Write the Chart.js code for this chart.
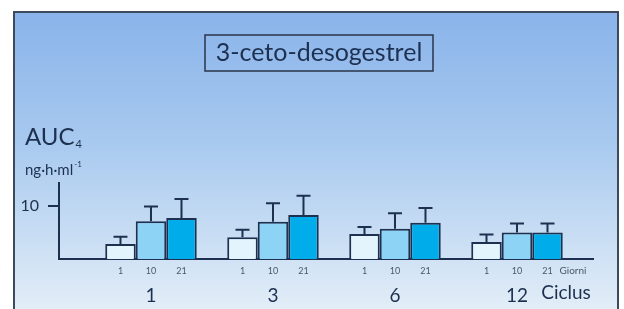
<!DOCTYPE html>
<html>
<head>
<meta charset="utf-8">
<script src="https://cdn.jsdelivr.net/npm/chart.js@4"></script>
<style>
  body { margin: 0; background: #fff; }
  #wrap { width: 624px; height: 309px; position: relative; }
</style>
</head>
<body>
<div id="wrap"><canvas id="myChart"></canvas></div>
<script>
// Datos del gráfico
var cycles = ['1', '3', '6', '12'];
var days = ['1', '10', '21'];
var day1 = [2.8, 4.1, 4.7, 3.2];
var day10 = [7.1, 7.0, 5.7, 5.0];
var day21 = [7.7, 8.3, 6.8, 5.0];
var err1 = [1.4, 1.4, 1.3, 1.4];
var err10 = [2.8, 3.5, 2.9, 1.7];
var err21 = [3.6, 3.6, 2.8, 1.7];
var yTicks = [10];

var navy = '#1d3050';
var font = 'Lato, "Open Sans", sans-serif';

function pts(arr) {
  return arr.map(function (v, i) { return { x: i + 1, y: v }; });
}

// fondo degradado y marco
var background = {
  id: 'background',
  beforeDraw: function (chart) {
    var ctx = chart.ctx;
    ctx.save();
    ctx.fillStyle = '#ffffff';
    ctx.fillRect(0, 0, chart.width, chart.height);
    var g = ctx.createLinearGradient(0, 12, 0, 309);
    g.addColorStop(0, '#89b3ea');
    g.addColorStop(0.45, '#a9caef');
    g.addColorStop(1, '#e2edf7');
    ctx.fillStyle = g;
    ctx.fillRect(14, 12, 604, 300);
    ctx.strokeStyle = '#3c4a5c';
    ctx.lineWidth = 2;
    ctx.beginPath();
    ctx.moveTo(14, 312);
    ctx.lineTo(14, 12);
    ctx.lineTo(618, 12);
    ctx.lineTo(618, 312);
    ctx.stroke();
    ctx.restore();
  }
};

// barras de error, etiquetas de días y textos
var extras = {
  id: 'extras',
  afterDatasetsDraw: function (chart) {
    var ctx = chart.ctx;
    var y = chart.scales.y;
    var errs = [err1, err10, err21];
    ctx.save();
    ctx.strokeStyle = navy;
    ctx.lineWidth = 2;
    chart.data.datasets.forEach(function (ds, d) {
      var meta = chart.getDatasetMeta(d);
      meta.data.forEach(function (bar, i) {
        var top = y.getPixelForValue(ds.data[i].y + errs[d][i]);
        ctx.beginPath();
        ctx.moveTo(bar.x, bar.y);
        ctx.lineTo(bar.x, top);
        ctx.moveTo(bar.x - 7, top);
        ctx.lineTo(bar.x + 7, top);
        ctx.stroke();
        // etiqueta del día
        ctx.fillStyle = '#4a5868';
        ctx.font = '9px ' + font;
        ctx.textAlign = 'center';
        ctx.textBaseline = 'middle';
        ctx.fillText(days[d], bar.x, 271);
      });
    });
    ctx.restore();
  },
  afterDraw: function (chart) {
    var ctx = chart.ctx;
    var area = chart.chartArea;
    ctx.save();
    // título
    ctx.strokeStyle = '#2a3448';
    ctx.lineWidth = 1.5;
    ctx.strokeRect(205, 35, 228, 36);
    ctx.fillStyle = navy;
    ctx.font = '25px ' + font;
    ctx.textAlign = 'center';
    ctx.textBaseline = 'middle';
    ctx.fillText('3-ceto-desogestrel', 319, 53);
    // unidad del eje
    ctx.textAlign = 'left';
    ctx.textBaseline = 'alphabetic';
    ctx.font = '24px ' + font;
    ctx.fillText('AUC', 25, 145);
    var w = ctx.measureText('AUC').width;
    ctx.font = '11px ' + font;
    ctx.fillText('4', 26 + w, 148);
    ctx.font = '15px ' + font;
    ctx.fillText('ng·h·ml', 25, 175);
    var w2 = ctx.measureText('ng·h·ml').width;
    ctx.font = '8px ' + font;
    ctx.fillText('-1', 26 + w2, 167);
    // Giorni / Ciclus
    ctx.fillStyle = '#4a5868';
    ctx.font = '10px ' + font;
    ctx.textAlign = 'center';
    ctx.textBaseline = 'middle';
    ctx.fillText('Giorni', area.right - 20, 271);
    ctx.fillStyle = navy;
    ctx.font = '19px ' + font;
    ctx.fillText('Ciclus', area.right - 27, 293);
    ctx.restore();
  }
};

var data = {
  datasets: [
    { label: '1', data: pts(day1), backgroundColor: '#e4f4fc' },
    { label: '10', data: pts(day10), backgroundColor: '#8dd3f5' },
    { label: '21', data: pts(day21), backgroundColor: '#00acea' }
  ]
};

var options = {
  responsive: true,
  maintainAspectRatio: false,
  animation: false,
  layout: { padding: { top: 183, left: 0, right: 31, bottom: 0 } },
  datasets: {
    bar: {
      borderColor: navy,
      borderWidth: 2,
      categoryPercentage: 0.75,
      barPercentage: 1.0
    }
  },
  plugins: {
    legend: { display: false },
    tooltip: { enabled: false }
  },
  scales: {
    x: {
      type: 'linear',
      offset: false,
      min: 0.246,
      max: 4.623,
      afterFit: function (s) { s.height = 50; },
      afterBuildTicks: function (s) {
        s.ticks = cycles.map(function (c, i) { return { value: i + 1 }; });
      },
      grid: { display: false, drawTicks: false, offset: false },
      border: { color: navy, width: 2 },
      ticks: {
        autoSkip: false,
        maxRotation: 0,
        padding: 25,
        color: navy,
        font: { family: font, size: 19 },
        callback: function (v) { return cycles[v - 1]; }
      }
    },
    y: {
      min: 0,
      max: 14.3,
      afterFit: function (s) { s.width = 59; },
      afterBuildTicks: function (s) {
        s.ticks = yTicks.map(function (v) { return { value: v }; });
      },
      grid: { drawOnChartArea: false, drawTicks: true, tickLength: 11, color: navy, lineWidth: 2 },
      border: { color: navy, width: 2 },
      ticks: {
        padding: 9,
        color: navy,
        font: { family: font, size: 16 }
      }
    }
  }
};

var ctx = document.getElementById('myChart').getContext('2d');
var myChart = new Chart(ctx, {
  type: 'bar',
  data: data,
  options: options,
  plugins: [background, extras]
});
</script>
</body>
</html>
